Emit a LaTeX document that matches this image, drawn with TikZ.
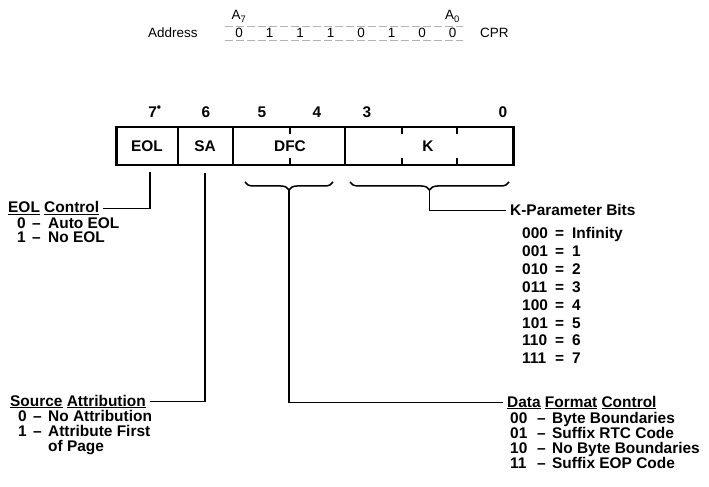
\documentclass[tikz,border=0pt]{standalone}
\usepackage{fontspec}
\setmainfont{Liberation Sans}
\usetikzlibrary{decorations.pathreplacing, positioning}
\newcommand{\hdu}[1]{\setbox0\hbox{#1}\rlap{\rule[-2.2bp]{\wd0}{1.1bp}}\box0\relax}

\begin{document}
\begin{tikzpicture}[
    x=1bp, y=-1bp,
    addr/.style={font=\fontsize{13.5}{15}\selectfont, inner sep=0pt},
    bitno/.style={font=\fontsize{15.5}{16}\selectfont\bfseries, inner sep=0pt, anchor=base},
    field/.style={font=\fontsize{15.5}{16}\selectfont\bfseries, inner sep=0pt, anchor=base},
    head/.style={font=\fontsize{15.5}{15}\selectfont\bfseries, inner xsep=4bp, inner ysep=0pt, anchor=base west},
    row/.style={font=\fontsize{15.5}{15}\selectfont\bfseries, inner sep=0pt, anchor=base west},
    regbox/.style={draw, line width=2.2bp, minimum width=397bp, minimum height=38bp, inner sep=0pt},
    sep/.style={line width=1.4bp},
    lead/.style={line width=1.6bp},
    brc/.style={decorate, decoration={brace, mirror, amplitude=8bp}, line width=1.5bp},
    guide/.style={gray!60, line width=0.7bp, dash pattern=on 8bp off 3bp}
]
\useasboundingbox (0,0) rectangle (709,487);

\node[addr, anchor=base west] (adr) at (148,38) {Address};
\foreach \b [count=\i] in {0,1,1,1,0,1,0,0}
    \node[addr, anchor=base] (a\i) at (208.5+30.5*\i,38) {\b};
\node[addr, anchor=base] (msb) at (a1 |- 0,20) {A\textsubscript{7}};
\node[addr, anchor=base] (lsb) at (a8 |- 0,20) {A\textsubscript{0}};
\node[addr, anchor=base west] (cpr) at (480,38) {CPR};
\draw[guide] (225,26) -- (463,26);
\draw[guide] (225,40) -- (463,40);

\node[regbox] (reg) at (315,146) {};
\foreach \x in {178,233,345}
    \draw[sep] (\x,127) -- (\x,165);
\foreach \x in {290,402,457} {
    \draw[sep] (\x,127) -- ++(0,7);
    \draw[sep] (\x,165) -- ++(0,-7);
}

\node[bitno] (b7) at (155,118) {7\raisebox{1bp}{\textsuperscript{\large\textbullet}}};
\node[bitno] (b6) at (206,118) {6};
\node[bitno] (b5) at (262,118) {5};
\node[bitno] (b4) at (317,118) {4};
\node[bitno] (b3) at (367,118) {3};
\node[bitno] (b0) at (503,118) {0};

\node[field] (eol) at (147,152) {EOL};
\node[field] (sa)  at (205,152) {SA};
\node[field] (dfc) at (290,152) {DFC};
\node[field] (k)   at (428,152) {K};

\draw[brc] (245,182) -- (333,182);
\draw[brc] (350,182) -- (509,182);
\coordinate (dfctip) at (289,190);
\coordinate (ktip) at (429.5,190);
\coordinate (eoltop) at (150,172);
\coordinate (satop) at (205,173);

\node[head] (eolh) at (4,213) {\hdu{EOL} \hdu{Control}};
\node[head] (sah)  at (6,406) {\hdu{Source} \hdu{Attribution}};
\node[head] (dfch) at (503,407) {\hdu{Data} \hdu{Format} \hdu{Control}};
\node[head] (kh)   at (506,216) {K-Parameter Bits};

\draw[lead] (eoltop) |- (eolh.east);
\draw[lead] (satop) |- (sah.east);
\draw[lead] (dfctip) |- (dfch.west);
\draw[lead] (ktip) |- (kh.west);

\foreach \c/\v [count=\i from 0] in {0/Auto EOL, 1/No EOL}
    \node[row] (eolr\i) at (17,228.5+14.5*\i) {\makebox[15bp][l]{\c}\makebox[16bp][l]{--}\v};
\foreach \c/\v [count=\i from 0] in {0/No Attribution, 1/Attribute First}
    \node[row] (sar\i) at (18,421.5+15*\i) {\makebox[15bp][l]{\c}\makebox[15bp][l]{--}\v};
\node[row] (sar2) at (48,451.5) {of Page};
\foreach \c/\v [count=\i from 0] in {00/Byte Boundaries, 01/Suffix RTC Code,
        10/No Byte Boundaries, 11/Suffix EOP Code}
    \node[row] (dfcr\i) at (510,423+15.3*\i) {\makebox[27bp][l]{\c}\makebox[15bp][l]{--}\v};
\foreach \c/\v [count=\i from 0] in {000/Infinity, 001/1, 010/2, 011/3,
        100/4, 101/5, 110/6, 111/7}
    \node[row] (kr\i) at (522,238.5+17.9*\i) {\makebox[33bp][l]{\c}\makebox[17bp][l]{=}\v};

\end{tikzpicture}
\end{document}
